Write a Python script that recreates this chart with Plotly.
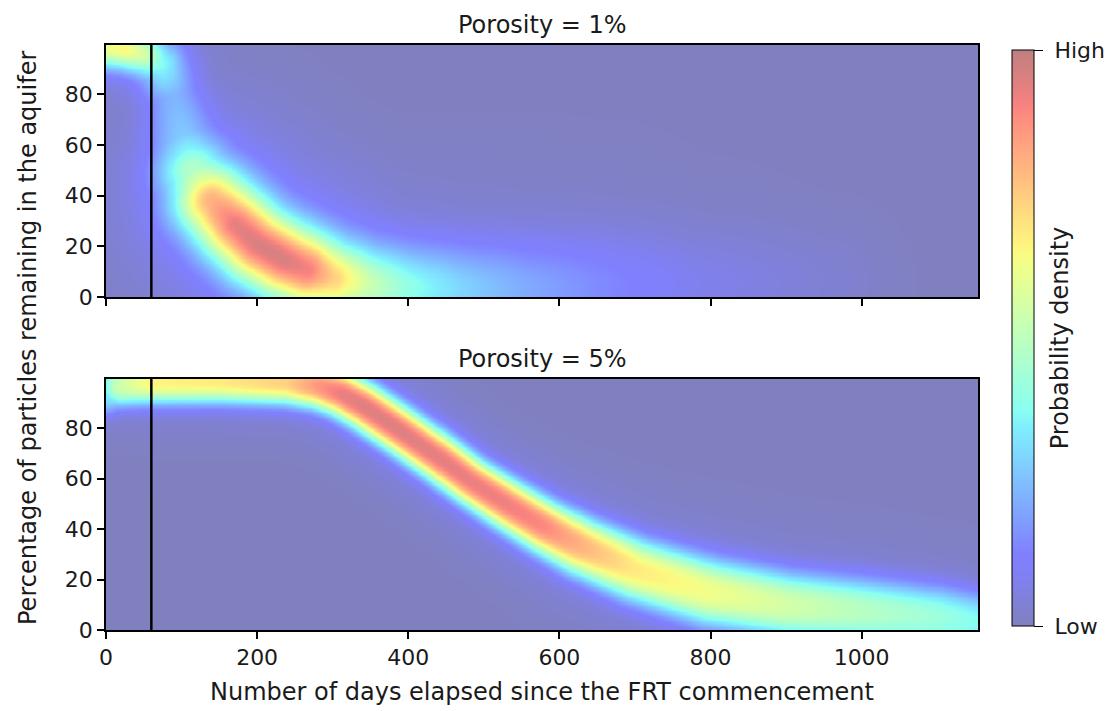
import numpy as np
import plotly.graph_objects as go

# ---------------- data ----------------
panel_titles = ["Porosity = 1%", "Porosity = 5%"]
x_ticks = [0, 200, 400, 600, 800, 1000]
y_ticks = [0, 20, 40, 60, 80]
x_limits = [0, 1154]
y_limits = [0, 99.5]
frt_marker_day = 60
colorbar_ticktext = ["\u00a0Low", "\u00a0High"]

# ridge of the probability density, porosity 1 %
days_p1 = [0, 25, 50, 72, 88, 100, 115, 140, 170, 200, 235, 265, 300, 350, 400, 470, 550, 650, 780, 950]
pct_p1 = [98.5, 98, 96, 92, 80, 64, 50, 38, 29, 21, 15, 11, 7.5, 5, 3.5, 3, 3, 4, 5, 6]
dens_p1 = [0.58, 0.62, 0.52, 0.33, 0.2, 0.22, 0.42, 0.78, 0.92, 0.95, 0.95, 0.9, 0.7, 0.48, 0.36, 0.26, 0.19, 0.13, 0.07, 0.03]
spread_p1 = [5.5, 5.5, 6.0, 7.0, 8.0, 9.0, 10.0, 10.5, 10.5, 10.5, 10.5, 10.5, 10.5, 11.0, 12.0, 13.0, 14.0, 15.0, 15.0, 15.0]

# ridge of the probability density, porosity 5 %
days_p5 = [0, 20, 60, 150, 240, 280, 310, 340, 390, 440, 480, 530, 580, 630, 700, 800, 900, 1000, 1100, 1160]
pct_p5 = [93, 97, 98.8, 99, 98.5, 97, 94, 89, 79, 68.5, 59.5, 50, 41, 33, 24, 15, 10, 7.5, 5, 3]
dens_p5 = [0.3, 0.52, 0.64, 0.66, 0.72, 0.85, 0.92, 0.94, 0.94, 0.93, 0.92, 0.91, 0.88, 0.78, 0.66, 0.6, 0.53, 0.46, 0.4, 0.34]
spread_p5 = [5.5, 6.3, 6.7, 6.7, 6.7, 6.7, 6.7, 6.7, 6.7, 6.7, 6.7, 7.1, 7.5, 8.3, 9.1, 9.8, 9.8, 9.8, 9.4, 8.7]

# ---------------- layout geometry ----------------
W, H = 1112, 711
px_left, px_right = 106, 978
top_px = (45, 297)
bot_px = (379, 630)
xdom = [px_left / W, px_right / W]
ydom_top = [1 - top_px[1] / H, 1 - top_px[0] / H]
ydom_bot = [1 - bot_px[1] / H, 1 - bot_px[0] / H]

kx = (px_right - px_left) / (x_limits[1] - x_limits[0])  # px per day
ky = (top_px[1] - top_px[0]) / (y_limits[1] - y_limits[0])  # px per percent


def jet(v):
    r = np.interp(v, [0, 0.35, 0.66, 0.89, 1], [0, 0, 1, 1, 0.5])
    g = np.interp(v, [0, 0.125, 0.375, 0.64, 0.91, 1], [0, 0, 1, 1, 0, 0])
    b = np.interp(v, [0, 0.11, 0.34, 0.65, 1], [0.5, 1, 1, 0, 0])
    return r, g, b


stops = np.linspace(0, 1, 41)
colorscale = []
for s in stops:
    r, g, b = jet(s)
    a = 0.5
    col = "rgb(%d,%d,%d)" % (round((a * r + 1 - a) * 255), round((a * g + 1 - a) * 255), round((a * b + 1 - a) * 255))
    colorscale.append([float(s), col])


def density_field(days, pct, dens, spread, gx, gy, power, halo_w, halo_amt):
    Xp = gx[None, :] * kx
    Yp = gy[:, None] * ky
    core = np.zeros((gy.size, gx.size))
    halo = np.zeros_like(core)
    for i in range(len(days) - 1):
        ax, ay = days[i] * kx, pct[i] * ky
        bx, by = days[i + 1] * kx, pct[i + 1] * ky
        vx, vy = bx - ax, by - ay
        L2 = vx * vx + vy * vy
        t = np.clip(((Xp - ax) * vx + (Yp - ay) * vy) / L2, 0, 1)
        d = np.hypot(Xp - (ax + t * vx), Yp - (ay + t * vy))
        I = dens[i] + t * (dens[i + 1] - dens[i])
        s = (spread[i] + t * (spread[i + 1] - spread[i])) * ky
        c = I * np.exp(-0.5 * (d / s) ** power)
        h = I * np.exp(-0.5 * (d / (s * halo_w)) ** 2)
        core = np.maximum(core, c)
        halo = np.maximum(halo, h)
    return np.clip(core + halo_amt * halo * (1 - core), 0, 1)


gx = np.arange(x_limits[0], x_limits[1] + 4, 4.0)
gy = np.arange(y_limits[0], y_limits[1] + 0.5, 0.5)
z1 = np.round(density_field(days_p1, pct_p1, dens_p1, spread_p1, gx, gy, 2.0, 2.6, 0.15), 3)
z5 = np.round(density_field(days_p5, pct_p5, dens_p5, spread_p5, gx, gy, 2.5, 2.0, 0.10), 3)

FONT = "DejaVu Sans"
FS_TICK = 22
FS_TEXT = 24
TXT = "#1a1a1a"

fig = go.Figure()
fig.add_trace(go.Heatmap(x=gx, y=gy, z=z1, coloraxis="coloraxis", zsmooth="best",
                         xaxis="x", yaxis="y", hoverinfo="skip"))
fig.add_trace(go.Heatmap(x=gx, y=gy, z=z5, coloraxis="coloraxis", zsmooth="best",
                         xaxis="x2", yaxis="y2", hoverinfo="skip"))

axis_common = dict(showline=True, mirror=True, linecolor="black", linewidth=1.5,
                   ticks="outside", ticklen=7, tickwidth=1.5, tickcolor="black",
                   showgrid=False, zeroline=False,
                   tickfont=dict(family=FONT, size=FS_TICK, color=TXT))

fig.update_layout(
    width=W, height=H,
    margin=dict(l=0, r=0, t=0, b=0, autoexpand=False),
    paper_bgcolor="white", plot_bgcolor="white",
    font=dict(family=FONT, size=FS_TICK, color=TXT),
    xaxis=dict(domain=xdom, range=x_limits, tickvals=x_ticks, showticklabels=False,
               anchor="y", **axis_common),
    yaxis=dict(domain=ydom_top, range=y_limits, tickvals=y_ticks, anchor="x", **axis_common),
    xaxis2=dict(domain=xdom, range=x_limits, tickvals=x_ticks, anchor="y2", **axis_common),
    yaxis2=dict(domain=ydom_bot, range=y_limits, tickvals=y_ticks, anchor="x2", **axis_common),
    coloraxis=dict(
        colorscale=colorscale, cmin=0, cmax=1,
        colorbar=dict(
            x=1012 / W, xanchor="left", xref="paper", xpad=0, ypad=0,
            y=1 - 338 / H, yanchor="middle",
            len=576, lenmode="pixels", thickness=22, thicknessmode="pixels",
            outlinecolor="black", outlinewidth=1,
            tickvals=[0, 1], ticktext=colorbar_ticktext,
            ticks="outside", ticklen=9, tickcolor="black",
            tickfont=dict(family=FONT, size=FS_TICK, color=TXT),
            title=dict(text="Probability density", side="right",
                       font=dict(family=FONT, size=FS_TEXT, color=TXT)),
        ),
    ),
    showlegend=False,
)

for xref, yref in [("x", "y domain"), ("x2", "y2 domain")]:
    fig.add_shape(type="line", xref=xref, yref=yref, x0=frt_marker_day, x1=frt_marker_day,
                  y0=0, y1=1, line=dict(color="black", width=2.5))

fig.add_annotation(text=panel_titles[0], xref="paper", yref="paper",
                   x=(xdom[0] + xdom[1]) / 2, y=ydom_top[1], yanchor="bottom", yshift=4,
                   showarrow=False, font=dict(family=FONT, size=FS_TEXT, color=TXT))
fig.add_annotation(text=panel_titles[1], xref="paper", yref="paper",
                   x=(xdom[0] + xdom[1]) / 2, y=ydom_bot[1], yanchor="bottom", yshift=4,
                   showarrow=False, font=dict(family=FONT, size=FS_TEXT, color=TXT))
fig.add_annotation(text="Number of days elapsed since the FRT commencement", xref="paper", yref="paper",
                   x=(xdom[0] + xdom[1]) / 2, y=1 - 692 / H, yanchor="middle",
                   showarrow=False, font=dict(family=FONT, size=FS_TEXT, color=TXT))
fig.add_annotation(text="Percentage of particles remaining in the aquifer", xref="paper", yref="paper",
                   x=28 / W, y=1 - 338 / H, textangle=-90, xanchor="center", yanchor="middle",
                   showarrow=False, font=dict(family=FONT, size=FS_TEXT, color=TXT))

fig.write_html("out.html")
